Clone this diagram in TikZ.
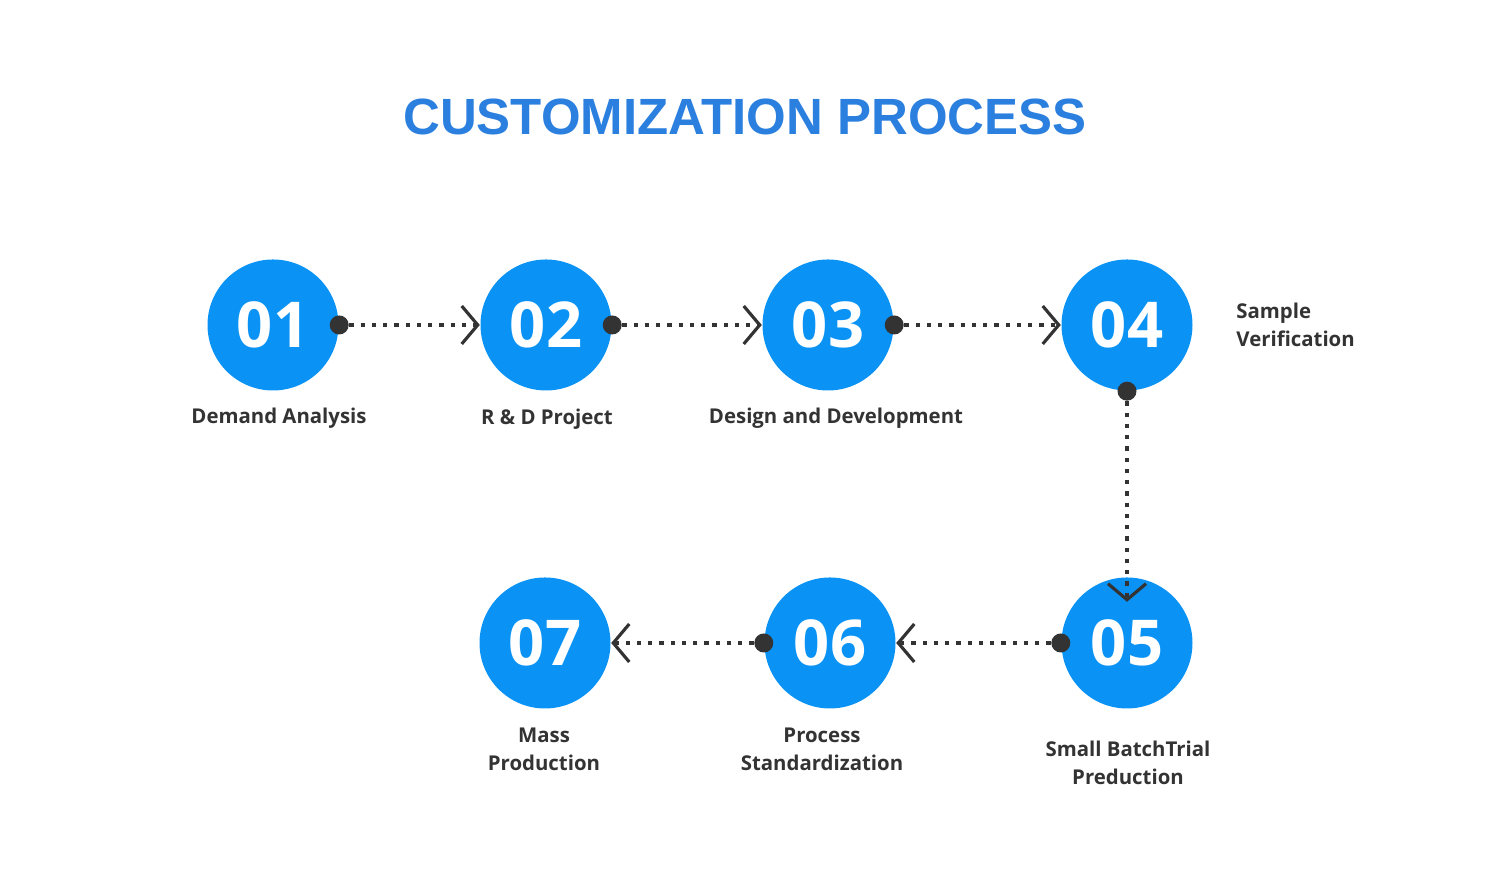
\documentclass[tikz,border=0pt]{standalone}
\usepackage{fontspec}
\setmainfont{Open Sans}
\newfontfamily\titlefont{Liberation Sans}
\usetikzlibrary{positioning,arrows.meta}
\definecolor{stepblue}{HTML}{0A93F5}
\definecolor{titleblue}{HTML}{2A7FDF}
\definecolor{darkgray}{HTML}{333333}
\begin{document}
\begin{tikzpicture}[
    stepnode/.style={circle, fill=stepblue, minimum size=1.31cm, inner sep=0pt, text=white, font=\fontsize{18}{18}\selectfont\bfseries},
    steplabel/.style={text=darkgray, font=\fontsize{5.8}{7.9}\selectfont\bfseries, align=center},
    link/.style={darkgray, line width=1.2pt, dotted, -{Straight Barb[length=1.6mm,width=3.8mm,line width=0.9pt,sep=0pt] }},
    dot/.style={circle, fill=darkgray, minimum size=0.19cm, inner sep=0pt},
  ]
  \useasboundingbox (0,0) rectangle (15,8.9);
  %Title
  \node[text=titleblue, font=\titlefont\fontsize{14.5}{14.5}\selectfont\bfseries] (title) at (7.45,7.73) {CUSTOMIZATION PROCESS};

  %Nodes
  \node[stepnode] (s1) at (2.73,5.65) {01};
  \node[stepnode] (s2) at (5.46,5.65) {02};
  \node[stepnode] (s3) at (8.28,5.65) {03};
  \node[stepnode] (s4) at (11.27,5.65) {04};
  \node[stepnode] (s5) at (11.27,2.47) {05};
  \node[stepnode] (s6) at (8.30,2.47) {06};
  \node[stepnode] (s7) at (5.45,2.47) {07};

  %Labels
  \node[steplabel] (l1) at (2.79,4.72) {Demand Analysis};
  \node[steplabel] (l2) at (5.47,4.71) {R \& D Project};
  \node[steplabel] (l3) at (8.36,4.72) {Design and Development};
  \node[steplabel, align=left, anchor=west] (l4) at (12.24,5.65) {Sample\\Verification};
  \node[steplabel] (l5) at (11.28,1.27) {Small BatchTrial\\Preduction};
  \node[steplabel] (l6) at (8.22,1.41) {Process\\Standardization};
  \node[steplabel] (l7) at (5.44,1.41) {Mass\\Production};

  %Dots
  \node[dot] (d1) at (s1.east) {};
  \node[dot] (d2) at (s2.east) {};
  \node[dot] (d3) at (s3.east) {};
  \node[dot] (d4) at (s4.south) {};
  \node[dot] (d5) at (s5.west) {};
  \node[dot] (d6) at (s6.west) {};
  \coordinate (t5) at ([yshift=-0.25cm]s5.north);

  %Lines
  \draw[link] (d1) -- (s2.west);
  \draw[link] (d2) -- (s3.west);
  \draw[link] (d3) -- (s4.west);
  \draw[link] (d4) -- (t5);
  \draw[link] (d5) -- (s6.east);
  \draw[link] (d6) -- (s7.east);
\end{tikzpicture}
\end{document}
